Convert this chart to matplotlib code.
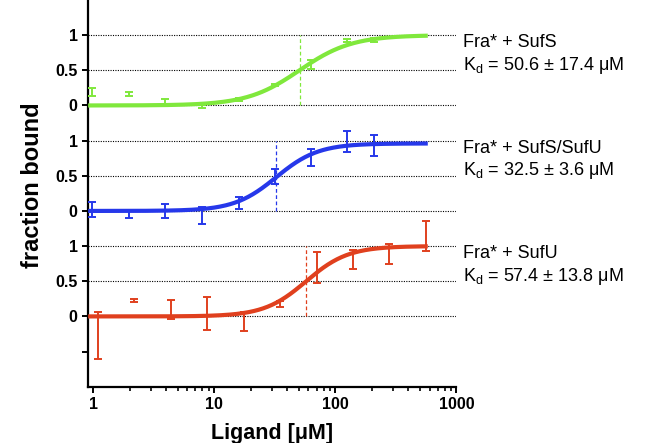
import numpy as np
import matplotlib
matplotlib.use('Agg')
import matplotlib.pyplot as plt
import matplotlib.ticker as mticker

# ── Style ──────────────────────────────────────────────────────
plt.rcParams.update({
    'font.family'      : ['Liberation Sans', 'DejaVu Sans'],
    'mathtext.fontset' : 'custom',
    'mathtext.rm'      : 'Liberation Sans',
    'mathtext.it'      : 'Liberation Sans',
})

GREEN = '#80E83C'
BLUE  = '#2638EA'
RED   = '#E0401E'

# ── Data ───────────────────────────────────────────────────────
labels  = ['Fra* + SufU', 'Fra* + SufS/SufU', 'Fra* + SufS']
kd_text = ['57.4 ± 13.8', '32.5 ± 3.6', '50.6 ± 17.4']
colors  = [RED, BLUE, GREEN]
offsets = [0.0, 1.5, 3.0]

# fit parameters
kd    = [57.4, 32.5, 50.6]
hill  = [2.5, 2.5, 2.0]
bmax  = [1.0, 0.96, 1.0]

# measured points (ligand in µM, fraction bound, error)
conc_sufu = [1.09, 2.19, 4.38, 8.75, 17.5, 35, 70, 140, 280, 560]
frac_sufu = [-0.27, 0.23, 0.10, 0.04, -0.07, 0.18, 0.69, 0.81, 0.89, 1.14]
err_sufu  = [0.34, 0.02, 0.14, 0.23, 0.14, 0.04, 0.22, 0.14, 0.14, 0.21]

conc_sufsu = [0.98, 1.97, 3.95, 7.9, 15.9, 31.5, 63, 126, 209]
frac_sufsu = [0.02, -0.04, 0.0, -0.06, 0.11, 0.49, 0.76, 0.99, 0.93]
err_sufsu  = [0.11, 0.06, 0.10, 0.12, 0.085, 0.10, 0.12, 0.15, 0.15]

conc_sufs = [0.98, 1.97, 3.95, 7.9, 15.9, 31.5, 63, 126, 209]
frac_sufs = [0.19, 0.16, 0.055, -0.015, 0.09, 0.29, 0.58, 0.92, 0.93]
err_sufs  = [0.06, 0.03, 0.03, 0.02, 0.02, 0.02, 0.06, 0.02, 0.03]

series = [(conc_sufu, frac_sufu, err_sufu),
          (conc_sufsu, frac_sufsu, err_sufsu),
          (conc_sufs, frac_sufs, err_sufs)]

# ── Plot ───────────────────────────────────────────────────────
fig = plt.figure(figsize=(6.53, 4.43), dpi=100)
ax = fig.add_axes([0.135, 0.127, 0.564, 0.873])
ax.set_xscale('log')
ax.set_xlim(0.91, 1000)
ax.set_ylim(-1.0, 4.5)

# dotted reference lines
for off in offsets:
    for lev in (0, 0.5, 1):
        ax.axhline(off + lev, color='black', lw=0.8,
                   linestyle=(0, (1, 1.2)), zorder=1)

x_fit = np.logspace(np.log10(0.91), np.log10(580), 300)
for i in range(3):
    c, off = colors[i], offsets[i]
    y_fit = bmax[i] * x_fit**hill[i] / (kd[i]**hill[i] + x_fit**hill[i])
    ax.plot(x_fit, y_fit + off, color=c, lw=3.0, zorder=3,
            solid_capstyle='butt')
    ax.plot([kd[i], kd[i]], [off, off + 1], color=c, lw=0.9,
            linestyle=(0, (3, 2)), zorder=2)
    xs, ys, es = series[i]
    ax.errorbar(xs, np.array(ys) + off, yerr=es, fmt='none',
                ecolor=c, elinewidth=1.4, capsize=3, capthick=1.4,
                zorder=4)
    ax.text(1.017, off + 0.89, labels[i], transform=ax.get_yaxis_transform(),
            fontsize=13, va='center', ha='left')
    ax.text(1.017, off + 0.57, r'K$_\mathrm{d}$ = ' + kd_text[i] + ' μM',
            transform=ax.get_yaxis_transform(),
            fontsize=13, va='center', ha='left')

# axes styling
ax.spines[['top', 'right']].set_visible(False)
for s in ('left', 'bottom'):
    ax.spines[s].set_linewidth(1.6)

yt = [-0.5, 0, 0.5, 1, 1.5, 2, 2.5, 3, 3.5, 4]
ax.set_yticks(yt)
ax.set_yticklabels(['', '0', '0.5', '1', '0', '0.5', '1', '0', '0.5', '1'])
ax.xaxis.set_major_locator(mticker.FixedLocator([1, 10, 100, 1000]))
ax.xaxis.set_major_formatter(mticker.FixedFormatter(['1', '10', '100', '1000']))
ax.xaxis.set_minor_locator(mticker.LogLocator(base=10, subs=np.arange(2, 10)))
ax.xaxis.set_minor_formatter(mticker.NullFormatter())
ax.tick_params(axis='both', which='major', labelsize=11.5, width=1.4,
               length=4, direction='out')
ax.tick_params(axis='x', which='minor', width=1.2, length=3)
for t in ax.get_xticklabels() + ax.get_yticklabels():
    t.set_fontweight('bold')

ax.set_xlabel('Ligand [μM]', fontsize=15.5, fontweight='bold', labelpad=8)
ax.set_ylabel('fraction bound', fontsize=17, fontweight='bold')
ax.yaxis.set_label_coords(-0.12, 0.52)

fig.savefig('out.png', dpi=100)
